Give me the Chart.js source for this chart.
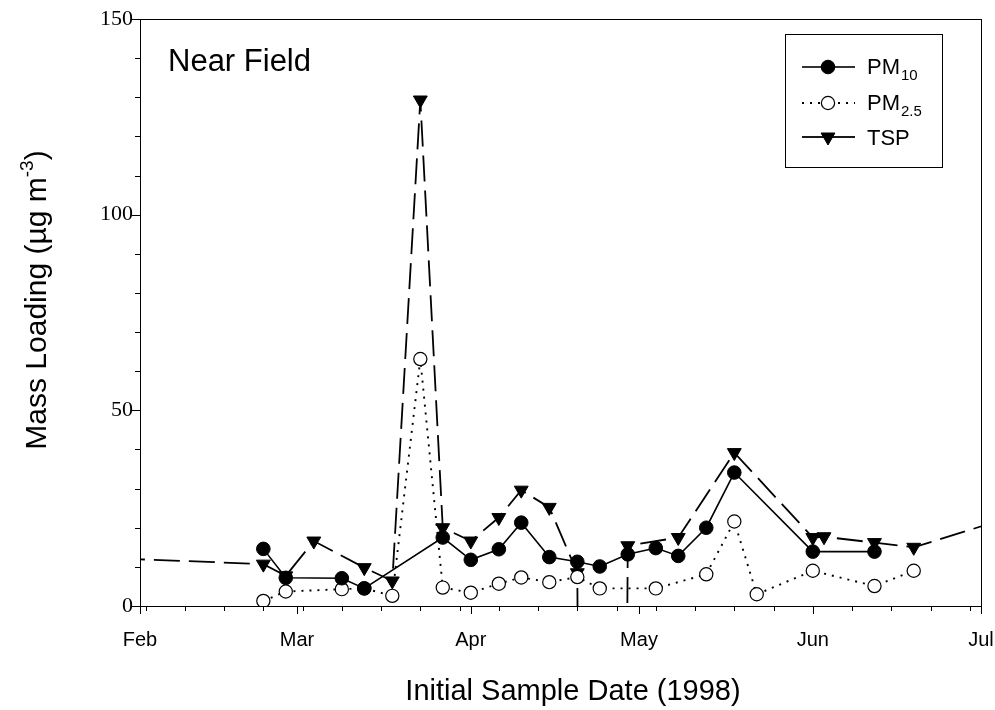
<!DOCTYPE html>
<html><head><meta charset="utf-8">
<script src="https://cdn.jsdelivr.net/npm/chart.js@4.4.1/dist/chart.umd.min.js"></script>
<style>html,body{margin:0;padding:0;background:#fff;}#wrap{width:995px;height:710px;}</style>
</head><body><div id="wrap"><canvas id="c" width="995" height="710"></canvas></div>
<script>
// ---- data ----
const monthLabels = ['Feb', 'Mar', 'Apr', 'May', 'Jun', 'Jul'];
const monthStarts = ['1998-02-01', '1998-03-01', '1998-04-01', '1998-05-01', '1998-06-01', '1998-07-01'];
const yTickValues = [0, 50, 100, 150];

const pm10Dates = ['1998-02-23','1998-02-27','1998-03-09','1998-03-13','1998-03-27','1998-04-01','1998-04-06','1998-04-10','1998-04-15','1998-04-20','1998-04-24','1998-04-29','1998-05-04','1998-05-08','1998-05-13','1998-05-18','1998-06-01','1998-06-12'];
const pm10Values = [14.6, 7.2, 7.1, 4.5, 17.5, 11.8, 14.5, 21.3, 12.5, 11.3, 10.1, 13.2, 14.8, 12.8, 20.0, 34.1, 13.9, 13.9];

const pm25Dates = ['1998-02-23','1998-02-27','1998-03-09','1998-03-13','1998-03-18','1998-03-23','1998-03-27','1998-04-01','1998-04-06','1998-04-10','1998-04-15','1998-04-20','1998-04-24','1998-05-04','1998-05-13','1998-05-18','1998-05-22','1998-06-01','1998-06-12','1998-06-19'];
const pm25Values = [1.3, 3.7, 4.3, 4.5, 2.6, 63.1, 4.7, 3.4, 5.7, 7.3, 6.1, 7.4, 4.5, 4.5, 8.1, 21.6, 3.0, 9.0, 5.1, 9.0];

// -999 = missing-value code in the source file (draws the vertical drops near late April)
const tspDates = ['1998-01-22','1998-02-23','1998-02-27','1998-03-04','1998-03-13','1998-03-18','1998-03-23','1998-03-27','1998-04-01','1998-04-06','1998-04-10','1998-04-15','1998-04-20','1998-04-24','1998-04-29','1998-05-08','1998-05-18','1998-06-01','1998-06-03','1998-06-12','1998-06-19','1998-07-07'];
const tspValues = [12.5, 10.7, 7.7, 16.6, 9.8, 6.4, 129.3, 20.0, 16.6, 22.6, 29.6, 25.2, 8.5, -999, 15.4, 17.5, 39.2, 17.5, 17.7, 16.2, 15.0, 23.0];

// ---- helpers ----
function dayOf(s) {
  const [y, m, d] = s.split('-').map(Number);
  return (Date.UTC(y, m - 1, d) - Date.UTC(1998, 1, 1)) / 86400000;
}
function pts(dates, vals) { return dates.map((d, i) => ({ x: dayOf(d), y: vals[i] })); }
const monthDays = monthStarts.map(dayOf);
const weekDays = [];
for (let d = dayOf('1998-02-02'); d <= 150; d += 7) weekDays.push(d);

const SANS = '"Liberation Sans", Arial, sans-serif';
const SERIF = '"Liberation Serif", "Times New Roman", serif';

const styles = {
  pm10: { borderColor: '#000', borderWidth: 1.6, borderDash: [], pointStyle: 'circle', pointRadius: 6.8, pointBackgroundColor: '#000', pointBorderColor: '#000', pointBorderWidth: 1, pointRotation: 0 },
  pm25: { borderColor: '#000', borderWidth: 1.9, borderDash: [2, 6], pointStyle: 'circle', pointRadius: 6.6, pointBackgroundColor: '#fff', pointBorderColor: '#000', pointBorderWidth: 1.2, pointRotation: 0 },
  tsp:  { borderColor: '#000', borderWidth: 1.8, borderDash: [26, 9], pointStyle: 'triangle', pointRadius: 8, pointBackgroundColor: '#000', pointBorderColor: '#000', pointBorderWidth: 1, pointRotation: 180 }
};

const decor = {
  id: 'decor',
  afterDraw(chart) {
    const ctx = chart.ctx, a = chart.chartArea, xs = chart.scales.x, ys = chart.scales.y;
    ctx.save();
    ctx.strokeStyle = '#000'; ctx.lineWidth = 1; ctx.setLineDash([]);
    // frame
    ctx.strokeRect(Math.round(a.left) + 0.5, Math.round(a.top) + 0.5, Math.round(a.right - a.left), Math.round(a.bottom - a.top));
    // x ticks
    ctx.beginPath();
    monthDays.forEach(d => { const px = Math.round(xs.getPixelForValue(d)) + 0.5; ctx.moveTo(px, a.bottom); ctx.lineTo(px, a.bottom + 8); });
    weekDays.forEach(d => { const px = Math.round(xs.getPixelForValue(d)) + 0.5; ctx.moveTo(px, a.bottom); ctx.lineTo(px, a.bottom + 5); });
    // y ticks
    for (let v = 0; v <= 150; v += 10) {
      const py = Math.round(ys.getPixelForValue(v)) + 0.5;
      const len = (v % 50 === 0) ? 8 : 5;
      ctx.moveTo(a.left - len, py); ctx.lineTo(a.left, py);
    }
    ctx.stroke();

    ctx.fillStyle = '#000';
    // panel label
    ctx.font = '31px ' + SANS; ctx.textAlign = 'left'; ctx.textBaseline = 'middle';
    ctx.fillText('Near Field', 168, 62);

    // x title
    ctx.font = '29px ' + SANS; ctx.textAlign = 'center';
    ctx.fillText('Initial Sample Date (1998)', 573, 692);

    // y title with superscript
    ctx.save();
    ctx.translate(35, 300); ctx.rotate(-Math.PI / 2);
    const t1 = 'Mass Loading (\u00B5g m', t2 = '-3', t3 = ')';
    ctx.font = '30px ' + SANS; const w1 = ctx.measureText(t1).width, w3 = ctx.measureText(t3).width;
    ctx.font = '19px ' + SANS; const w2 = ctx.measureText(t2).width;
    let x0 = -(w1 + w2 + w3) / 2;
    ctx.textAlign = 'left'; ctx.textBaseline = 'alphabetic';
    ctx.font = '30px ' + SANS; ctx.fillText(t1, x0, 11);
    ctx.font = '19px ' + SANS; ctx.fillText(t2, x0 + w1, -2);
    ctx.font = '30px ' + SANS; ctx.fillText(t3, x0 + w1 + w2, 11);
    ctx.restore();

    // legend
    const box = { l: 785, t: 34, r: 942, b: 167 };
    ctx.fillStyle = '#fff'; ctx.fillRect(box.l, box.t, box.r - box.l, box.b - box.t);
    ctx.strokeStyle = '#000'; ctx.lineWidth = 1;
    ctx.strokeRect(box.l + 0.5, box.t + 0.5, box.r - box.l, box.b - box.t);
    const rows = [
      { key: 'pm10', y: 67, main: 'PM', sub: '10', dy: 7 },
      { key: 'pm25', y: 103, main: 'PM', sub: '2.5', dy: 7 },
      { key: 'tsp', y: 137, main: 'TSP', sub: '', dy: 8 }
    ];
    rows.forEach(r => {
      const s = styles[r.key];
      ctx.save();
      ctx.strokeStyle = s.borderColor; ctx.lineWidth = s.borderWidth; ctx.setLineDash(s.borderDash);
      ctx.beginPath(); ctx.moveTo(802, r.y); ctx.lineTo(828, r.y); ctx.stroke();
      ctx.beginPath(); ctx.moveTo(830, r.y); ctx.lineTo(855, r.y); ctx.stroke();
      ctx.setLineDash([]);
      ctx.fillStyle = s.pointBackgroundColor; ctx.strokeStyle = s.pointBorderColor; ctx.lineWidth = s.pointBorderWidth;
      Chart.helpers.drawPoint(ctx, { pointStyle: s.pointStyle, rotation: s.pointRotation, radius: s.pointRadius, borderWidth: s.pointBorderWidth }, 828, r.y);
      ctx.restore();
      ctx.fillStyle = '#000'; ctx.textAlign = 'left'; ctx.textBaseline = 'alphabetic';
      ctx.font = '22px ' + SANS; ctx.fillText(r.main, 867, r.y + r.dy);
      if (r.sub) {
        const w = ctx.measureText(r.main).width;
        ctx.font = '15px ' + SANS; ctx.fillText(r.sub, 867 + w + 1, r.y + 13);
      }
    });
    ctx.restore();
  }
};

function ds(label, key, dates, vals) {
  const s = styles[key];
  return {
    label, data: pts(dates, vals), showLine: true, tension: 0,
    borderColor: s.borderColor, borderWidth: s.borderWidth, borderDash: s.borderDash,
    pointStyle: s.pointStyle, pointRadius: s.pointRadius, pointHoverRadius: s.pointRadius,
    pointBackgroundColor: s.pointBackgroundColor, pointBorderColor: s.pointBorderColor,
    pointBorderWidth: s.pointBorderWidth, pointRotation: s.pointRotation, fill: false
  };
}

new Chart(document.getElementById('c'), {
  type: 'scatter',
  data: {
    datasets: [
      ds('PM10', 'pm10', pm10Dates, pm10Values),
      ds('PM2.5', 'pm25', pm25Dates, pm25Values),
      ds('TSP', 'tsp', tspDates, tspValues)
    ]
  },
  options: {
    responsive: false, animation: false, events: [],
    layout: { padding: { left: 0, right: 14, top: 19, bottom: 0 } },
    plugins: { legend: { display: false }, tooltip: { enabled: false } },
    scales: {
      x: {
        type: 'linear', min: 0, max: 150,
        grid: { display: false, drawTicks: false }, border: { display: false },
        afterBuildTicks: sc => { sc.ticks = monthDays.map(v => ({ value: v })); },
        afterFit: sc => { sc.height = 104; sc.paddingLeft = 0; sc.paddingRight = 0; },
        ticks: {
          autoSkip: false, maxRotation: 0, padding: 22, color: '#000',
          font: { family: SANS, size: 20 },
          callback: (v, i) => monthLabels[i]
        }
      },
      y: {
        type: 'linear', min: 0, max: 150,
        grid: { display: false, drawTicks: false }, border: { display: false },
        afterBuildTicks: sc => { sc.ticks = yTickValues.map(v => ({ value: v })); },
        afterFit: sc => { sc.width = 140; sc.paddingTop = 0; sc.paddingBottom = 0; },
        ticks: {
          padding: 7, color: '#000',
          font: { family: SERIF, size: 22 },
          callback: v => String(v)
        }
      }
    }
  },
  plugins: [decor]
});
</script>
</body></html>
